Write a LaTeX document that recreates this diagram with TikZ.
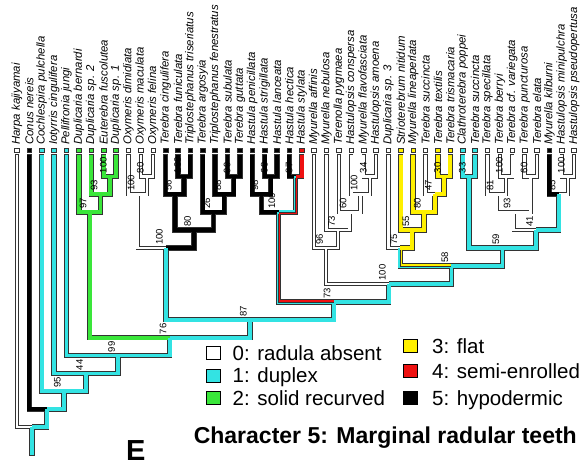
\documentclass[tikz,border=0pt]{standalone}
\usepackage{fontspec}
\setmainfont{Liberation Sans}
\usetikzlibrary{calc}
\definecolor{st0}{HTML}{FFFFFF}
\definecolor{st1}{HTML}{33E3E3}
\definecolor{st2}{HTML}{3AE63A}
\definecolor{st3}{HTML}{FFF000}
\definecolor{st4}{HTML}{EE1111}
\definecolor{st5}{HTML}{000000}
\definecolor{rimgray}{HTML}{333333}

% clade: name, left child, right child, level
\newcommand{\clade}[4]{%
  \coordinate (#1m) at ($(#2)!.5!(#3)$);
  \pgfmathsetmacro\cladey{158.6+17.9*#4}%
  \coordinate (#1h) at (0,\cladey);
  \coordinate (#1) at (#1m |- #1h);}

% one pass over all branches: #1 = rim or core, #2 = gap under the tip boxes
\newcommand{\treepass}[2]{%
  \foreach \kid/\up/\sv in {t1/root/0, t2/a14/5, t3/a13/1, t4/a12/1, t5/a11/1,
      t6/d97/2, t7/d93/2, t8/d100/2, t9/d100/2, t10/o100/0, t11/o80/0, t12/o80/0,
      t13/b56/5, t14/b100/5, t15/b100/5, t16/b26/5, t17/b88/5, t18/b99/5, t19/b99/5,
      t20/h98/5, t21/h68/5, t22/h68/5, t23/h87/5, t24/h87/4,
      t25/m96/0, t26/m73/0, t27/m60/0, t28/m100/0, t29/m34/0, t30/m34/0,
      t31/y75/0, t32/y55/3, t33/y80/3, t34/y47/0, t35/y30/3, t36/y30/3,
      t37/c33/1, t38/c33/1, t39/c81/0, t40/c100/0, t41/c100/0, t42/c60/0, t43/c60/0,
      t44/c85/5, t45/c100b/0, t46/c100b/0}
    \draw[#1=\sv, shorten <=#2] (\kid.south) |- (\up);
  \foreach \kid/\up/\sv in {d100/d93/2, d93/d97/2, d97/a10/2, o80/o100/0, o100/ob/0,
      b100/b56/5, b56/b80/5, b99/b88/5, b88/b26/5, b26/b80/5, b80/ob/5, ob/a9/1,
      h68/h98/5, h98/h100/5, h87/h100/1, h100/n73/1,
      m34/m100/0, m100/m60/0, m60/m73/0, m73/m96/0, m96/n100/0,
      y30/y47/3, y47/y80/3, y80/y55/3, y55/y75/3, y75/n58/1,
      c33/c59/1, c100/c81/0, c81/c93/0, c60/c93/0, c93/c41/0, c100b/c85/0,
      c85/c41/1, c41/c59/1, c59/n58/1, n58/n100/1, n100/n73/1, n73/a9/1,
      a9/a10/1, a10/a11/1, a11/a12/1, a12/a13/1, a13/a14/1, a14/root/1}
    \draw[#1=\sv] (\kid) |- (\up);}

\begin{document}
\begin{tikzpicture}[x=1pt,y=-1pt,
  taxon/.style={font=\fontsize{11.4}{12}\selectfont\itshape, rotate=90, anchor=west, inner sep=0pt},
  tipbox/.style={draw=rimgray, line width=0.7pt, minimum size=4.6pt, inner sep=0pt},
  rim/.style={draw=rimgray, line width={ifthenelse(#1==0,4.2,5.4)}},
  core/.style={draw=st#1, line width={ifthenelse(#1==0,2.6,3.8)}},
  half/.style={draw=st#1, line width=1.9pt},
  seam/.style={draw=rimgray, line width=0.4pt, shorten <=1.9pt},
  supp/.style={font=\fontsize{9.5}{10}\selectfont, rotate=90, anchor=south west, inner sep=0pt},
  keybox/.style={draw=black, line width=0.9pt, minimum width=14pt, minimum height=13pt, inner sep=0pt},
  keytext/.style={font=\fontsize{20.5}{22}\selectfont, anchor=base west, inner sep=0pt}]
\useasboundingbox (0,0) rectangle (583,462);

% tips
\foreach \i/\nm/\sv in {1/Harpa kajiyamai/0, 2/Conus nereis/5, 3/Cochlespira pulchella/1,
    4/Iotyrris cingulifera/1, 5/Pellifronia jungi/1, 6/Duplicaria bernardi/2,
    7/Duplicaria sp. 2/2, 8/Euterebra fuscolutea/2, 9/Duplicaria sp. 1/2,
    10/Oxymeris dimidiata/0, 11/Oxymeris maculata/0, 12/Oxymeris felina/0,
    13/Terebra cingulifera/5, 14/Terebra funiculata/5, 15/Triplostephanus triseriatus/5,
    16/Terebra argosyia/5, 17/Triplostephanus fenestratus/5, 18/Terebra subulata/5,
    19/Terebra guttata/5, 20/Hastula penicillata/5, 21/Hastula strigillata/5,
    22/Hastula lanceata/5, 23/Hastula hectica/5, 24/Hastula stylata/4,
    25/Myurella affinis/0, 26/Myurella nebulosa/0, 27/Terenolla pygmaea/0,
    28/Hastulopsis conspersa/0, 29/Myurella flavofasciata/0, 30/Hastulopsis amoena/0,
    31/Duplicaria sp. 3/0, 32/Strioterebrum nitidum/3, 33/Myurella lineaperlata/3,
    34/Terebra succincta/0, 35/Terebra textilis/3, 36/Terebra trismacaria/3,
    37/Clathroterebra poppei/1, 38/Terebra succincta/1, 39/Terebra specillata/0,
    40/Terebra berryi/0, 41/Terebra cf. variegata/0, 42/Terebra puncturosa/0,
    43/Terebra elata/0, 44/Myurella kilburni/5, 45/Hastulopsis minipulchra/0,
    46/Hastulopsis pseudopertusa/0}{
  \node[tipbox, fill=st\sv] (t\i) at ({17+12.38*(\i-1)},150.5) {};
  \node[taxon] (l\i) at ([yshift=2.8pt]t\i.north) {\nm};
}

% clades
\clade{d100}{t8}{t9}{1}
\clade{d93}{t7}{d100}{2}
\clade{d97}{t6}{d93}{3}
\clade{o80}{t11}{t12}{1}
\clade{o100}{t10}{o80}{2}
\clade{b100}{t14}{t15}{1}
\clade{b56}{t13}{b100}{2}
\clade{b99}{t18}{t19}{1}
\clade{b88}{t17}{b99}{2}
\clade{b26}{t16}{b88}{3}
\clade{b80}{b56}{b26}{4}
\clade{ob}{o100}{b80}{5}
\clade{h68}{t21}{t22}{1}
\clade{h98}{t20}{h68}{2}
\clade{h87}{t23}{t24}{1}
\clade{h100}{h98}{h87}{3}
\clade{m34}{t29}{t30}{1}
\clade{m100}{t28}{m34}{2}
\clade{m60}{t27}{m100}{3}
\clade{m73}{t26}{m60}{4}
\clade{m96}{t25}{m73}{5}
\clade{y30}{t35}{t36}{1}
\clade{y47}{t34}{y30}{2}
\clade{y80}{t33}{y47}{3}
\clade{y55}{t32}{y80}{4}
\clade{y75}{t31}{y55}{5}
\clade{c33}{t37}{t38}{1}
\clade{c100}{t40}{t41}{1}
\clade{c81}{t39}{c100}{2}
\clade{c60}{t42}{t43}{1}
\clade{c93}{c81}{c60}{3}
\clade{c100b}{t45}{t46}{1}
\clade{c85}{t44}{c100b}{2}
\clade{c41}{c93}{c85}{4}
\clade{c59}{c33}{c41}{5}
\clade{n58}{y75}{c59}{6}
\clade{n100}{m96}{n58}{7}
\clade{n73}{h100}{n100}{8}
\clade{a9}{ob}{n73}{9}
\clade{a10}{d97}{a9}{10}
\clade{a11}{t5}{a10}{11}
\clade{a12}{t4}{a11}{12}
\clade{a13}{t3}{a12}{13}
\clade{a14}{t2}{a13}{14}
\clade{root}{t1}{a14}{15}
\coordinate (baseh) at (0,455);
\coordinate (base) at (root |- baseh);

% branches: outlines first, then the colours
\treepass{rim}{1.2pt}
\draw[rim=1, shorten >=-0.8pt] (root) -- (base);
\treepass{core}{2pt}
\draw[core=1] (root) -- (base);

% equivocal branches
\draw[half=4] ([xshift=.95pt]h100) |- ([yshift=.95pt]n73);
\draw[half=4] ([xshift=.95pt]h87) |- ([yshift=-.95pt]h100);
\draw[half=3] ([xshift=.95pt]y75) |- ([yshift=.95pt]n58);
\draw[seam] (h100) |- (n73);
\draw[seam] (h87) |- (h100);
\draw[seam] (y75) |- (n58);

% support values
\foreach \n/\v in {d100/100, d93/93, d97/97, o80/80, o100/100, b100/100, b56/56,
    b99/99, b88/88, b26/26, b80/80, ob/100, h68/68, h98/98, h87/87, h100/100,
    m34/34, m100/100, m60/60, m73/73, m96/96, y30/30, y47/47, y80/80, y55/55,
    y75/75, c33/33, c100/100, c81/81, c60/60, c93/93, c100b/100, c85/85, c41/41,
    c59/59, n58/58, n100/100, n73/73, a9/87, a10/76, a11/99, a12/44, a13/95}
  \node[supp] (s\n) at ([xshift=-3pt,yshift=3.2pt]\n) {\v};

% legend
\foreach \sv/\txt/\bx/\tx/\by in {0/0: radula absent/213.5/232.5/360,
    1/1: duplex/213.5/232.5/382.5, 2/2: solid recurved/213.5/232.5/405,
    3/3: flat/410.5/432/353.3, 4/4: semi-enrolled/410.5/432/378.3,
    5/5: hypodermic/410.5/432/405}{
  \node[keybox, fill=st\sv] (k\sv) at (\bx,\by-7) {};
  \node[keytext] (kt\sv) at (\tx,\by) {\txt};
}
\node[anchor=base east, inner sep=0pt, font=\bfseries\fontsize{23}{26}\selectfont]
  (title) at (577,443) {Character 5: Marginal radular teeth};
\node[anchor=base west, inner sep=0pt, font=\bfseries\fontsize{29}{32}\selectfont]
  (panel) at (126,460) {E};
\end{tikzpicture}
\end{document}
